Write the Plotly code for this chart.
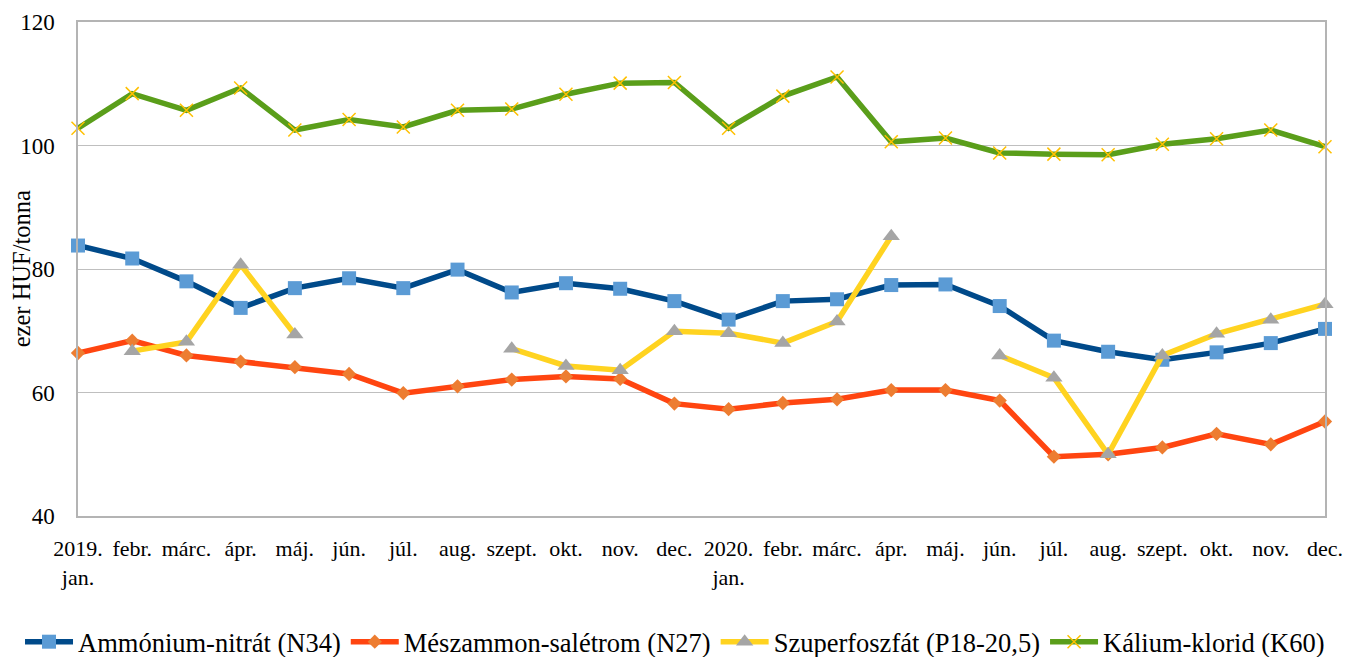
import plotly.graph_objects as go

months = ["2019.<br>jan.", "febr.", "márc.", "ápr.", "máj.", "jún.", "júl.", "aug.", "szept.", "okt.", "nov.", "dec.",
          "2020.<br>jan.", "febr.", "márc.", "ápr.", "máj.", "jún.", "júl.", "aug.", "szept.", "okt.", "nov.", "dec."]
x_idx = list(range(len(months)))

ammonium_nitrat = [83.8, 81.7, 78.0, 73.7, 76.9, 78.5, 76.9, 79.9, 76.2, 77.7, 76.8, 74.8,
                   71.8, 74.8, 75.1, 77.4, 77.5, 74.0, 68.4, 66.6, 65.3, 66.5, 68.0, 70.3]
meszammon = [66.4, 68.4, 66.0, 65.0, 64.1, 63.0, 59.9, 61.0, 62.1, 62.6, 62.2, 58.2,
             57.3, 58.3, 58.9, 60.4, 60.4, 58.7, 49.6, 50.0, 51.1, 53.3, 51.6, 55.3]
szuperfoszfat = [None, 66.7, 68.2, 80.7, 69.4, None, None, None, 67.1, 64.3, 63.6, 69.9,
                 69.6, 68.0, 71.5, 85.3, None, 66.0, 62.4, 50.0, 66.0, 69.5, 71.8, 74.3]
kalium_klorid = [102.8, 108.4, 105.7, 109.3, 102.5, 104.2, 103.0, 105.7, 105.9, 108.3, 110.1, 110.2,
                 102.8, 108.0, 111.1, 100.6, 101.2, 98.8, 98.6, 98.5, 100.2, 101.1, 102.5, 99.8]

FONT = "Liberation Serif, Times New Roman, serif"

fig = go.Figure()
fig.add_trace(go.Scatter(x=x_idx, y=ammonium_nitrat, name="Ammónium-nitrát (N34)", mode="lines+markers",
                         line=dict(color="#004A8A", width=5.5),
                         marker=dict(symbol="square", size=14, color="#5B9BD5"), cliponaxis=False))
fig.add_trace(go.Scatter(x=x_idx, y=meszammon, name="Mészammon-salétrom (N27)", mode="lines+markers",
                         line=dict(color="#FF4510", width=5.5),
                         marker=dict(symbol="diamond", size=11, color="#ED7D31"), cliponaxis=False))
fig.add_trace(go.Scatter(x=x_idx, y=szuperfoszfat, name="Szuperfoszfát (P18-20,5)", mode="lines+markers",
                         line=dict(color="#FFD320", width=5.5), connectgaps=False,
                         marker=dict(symbol="triangle-up", size=15, color="#A5A5A5"), cliponaxis=False))
fig.add_trace(go.Scatter(x=x_idx, y=kalium_klorid, name="Kálium-klorid (K60)", mode="lines+markers",
                         line=dict(color="#5A9E1A", width=5.5),
                         marker=dict(symbol="x-thin", size=13, color="#FFC000",
                                     line=dict(color="#FFC000", width=1.5)), cliponaxis=False))

fig.update_layout(
    width=1346, height=657,
    margin=dict(l=78, r=21, t=22, b=141, autoexpand=False),
    paper_bgcolor="white", plot_bgcolor="white",
    font=dict(family=FONT, color="black", size=22),
    showlegend=True,
    legend=dict(orientation="h", x=-0.0465, xanchor="left", y=-0.255, yanchor="middle",
                font=dict(family=FONT, size=26.5, color="black"), itemwidth=48, tracegroupgap=0),
    annotations=[dict(text="ezer HUF/tonna", xref="paper", yref="paper", x=-0.0455, y=0.5,
                      xanchor="center", yanchor="middle", textangle=-90, showarrow=False,
                      font=dict(family=FONT, size=24.5, color="black"))],
)
fig.update_xaxes(range=[0, len(months) - 1], tickmode="array", tickvals=x_idx, ticktext=months,
                 showgrid=False, showline=True, linecolor="#B4B4B4", linewidth=1.5, mirror=True,
                 ticks="", tickfont=dict(family=FONT, size=22), ticklabelstandoff=12, zeroline=False,
                 automargin=False, ticklabeloverflow="allow")
fig.update_yaxes(range=[40, 120], dtick=20, tick0=40, showgrid=True, gridcolor="#BFBFBF", gridwidth=1,
                 showline=True, linecolor="#B4B4B4", linewidth=1.5, mirror=True, ticks="",
                 tickfont=dict(family=FONT, size=23), ticklabelstandoff=17, zeroline=False,
                 automargin=False)

fig.write_html("out.html", config={"displayModeBar": False},
               post_script="document.body.style.margin='0';document.body.style.overflow='hidden';")
